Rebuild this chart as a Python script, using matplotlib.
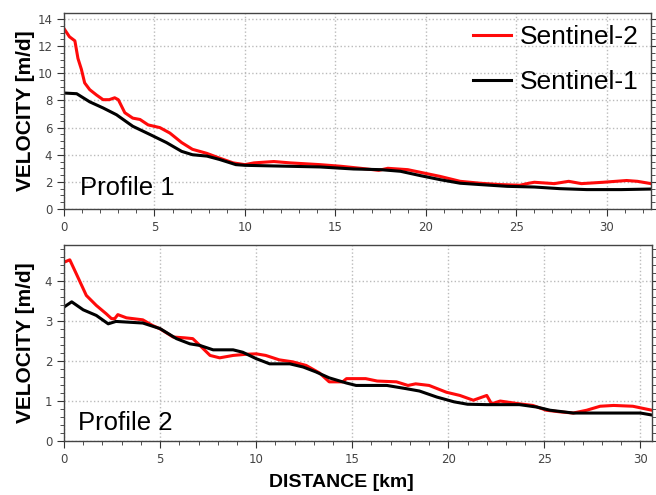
import matplotlib.pyplot as plt
from matplotlib.ticker import MultipleLocator

# Profile 1 - Sentinel-2
p1_s2_x = [0, 0.3, 0.6, 0.77, 0.96, 1.14, 1.42, 1.8, 2.16, 2.5, 2.8, 3.0, 3.36, 3.8, 4.2, 4.65,
           5.3, 5.85, 6.5, 7.1, 7.9, 8.6, 9.35, 10.0, 10.5, 11.6, 12.5, 14.15, 15.3, 16.4, 17.4,
           17.9, 19.0, 19.9, 20.8, 21.9, 23.0, 24.1, 25.2, 25.7, 26.0, 27.1, 27.9, 28.6, 29.8,
           31.1, 31.7, 32.45]
p1_s2_v = [13.3, 12.7, 12.4, 11.1, 10.3, 9.3, 8.8, 8.4, 8.06, 8.06, 8.2, 8.06, 7.1, 6.7, 6.6, 6.2,
           6.0, 5.6, 4.9, 4.4, 4.1, 3.75, 3.4, 3.27, 3.4, 3.5, 3.4, 3.27, 3.15, 3.0, 2.85,
           3.0, 2.9, 2.65, 2.4, 2.04, 1.9, 1.8, 1.75, 1.9, 1.97, 1.87, 2.04, 1.87, 1.97,
           2.1, 2.04, 1.87]

# Profile 1 - Sentinel-1
p1_s1_x = [0, 0.7, 1.42, 2.16, 2.9, 3.8, 4.74, 5.66, 6.5, 7.1, 7.9, 8.6, 9.5, 10.0, 14.15, 16.0,
           17.5, 18.6, 19.7, 20.8, 21.9, 23.0, 24.5, 26.0, 27.4, 28.9, 30.8, 32.45]
p1_s1_v = [8.55, 8.5, 7.9, 7.45, 6.95, 6.1, 5.5, 4.9, 4.25, 4.0, 3.9, 3.65, 3.27, 3.22, 3.1, 2.95,
           2.9, 2.78, 2.46, 2.16, 1.9, 1.8, 1.67, 1.62, 1.5, 1.43, 1.43, 1.47]

# Profile 2 - Sentinel-2
p2_s2_x = [0, 0.3, 0.64, 1.16, 1.68, 2.2, 2.47, 2.64, 2.8, 3.25, 4.1, 4.6, 4.98, 5.68, 6.28, 6.7,
           7.07, 7.6, 8.1, 8.8, 9.5, 10.0, 10.5, 11.2, 11.9, 12.6, 13.3, 13.8, 14.5, 14.7, 15.7,
           16.3, 17.3, 17.9, 18.3, 19.0, 19.9, 20.6, 21.3, 22.0, 22.25, 22.7, 23.7, 24.4, 25.1,
           25.8, 26.5, 27.2, 27.9, 28.6, 29.6, 30.6]
p2_s2_v = [4.47, 4.53, 4.18, 3.64, 3.39, 3.18, 3.06, 3.06, 3.16, 3.08, 3.03, 2.89, 2.81, 2.6, 2.58, 2.56,
           2.39, 2.14, 2.08, 2.14, 2.17, 2.18, 2.14, 2.03, 1.98, 1.89, 1.7, 1.48, 1.48, 1.56, 1.56,
           1.5, 1.48, 1.39, 1.43, 1.39, 1.22, 1.14, 1.02, 1.14, 0.93, 1.0, 0.93, 0.89, 0.77,
           0.73, 0.7, 0.77, 0.87, 0.89, 0.87, 0.77]

# Profile 2 - Sentinel-1
p2_s1_x = [0, 0.4, 1.0, 1.68, 2.3, 2.7, 4.1, 5.0, 5.85, 6.55, 7.07, 7.76, 8.8, 9.3, 10.0, 10.7,
           11.75, 12.45, 13.1, 13.8, 14.7, 15.2, 16.8, 17.8, 18.5, 19.4, 20.3, 21.0, 22.0, 23.7,
           24.6, 25.3, 26.5, 27.2, 28.9, 30.0, 30.6]
p2_s1_v = [3.35, 3.48, 3.28, 3.14, 2.93, 2.99, 2.95, 2.81, 2.56, 2.43, 2.39, 2.28, 2.28, 2.22, 2.06, 1.93,
           1.93, 1.85, 1.73, 1.58, 1.45, 1.39, 1.39, 1.31, 1.25, 1.1, 0.98, 0.92, 0.91, 0.91,
           0.85, 0.77, 0.7, 0.7, 0.7, 0.7, 0.65]

fig = plt.figure(figsize=(6.56, 4.95), dpi=100)
ax1 = fig.add_axes([0.0976, 0.5778, 0.8948, 0.3959])
ax2 = fig.add_axes([0.0976, 0.109, 0.8963, 0.396])

def style(ax, xmax, ymax, ymaj, ymin):
    ax.set_xlim(0, xmax)
    ax.set_ylim(0, ymax)
    ax.xaxis.set_major_locator(MultipleLocator(5))
    ax.xaxis.set_minor_locator(MultipleLocator(1))
    ax.yaxis.set_major_locator(MultipleLocator(ymaj))
    ax.yaxis.set_minor_locator(MultipleLocator(ymin))
    ax.tick_params(which='both', direction='out', right=True, top=False,
                   labelsize=8.5, labelcolor='#444444', color='#333333')
    ax.tick_params(which='major', length=5)
    ax.tick_params(which='minor', length=3)
    ax.grid(True, which='major', linestyle=':', color='#bbbbbb', linewidth=1)
    for s in ax.spines.values():
        s.set_color('#444444')
        s.set_linewidth(1)
    ax.set_ylabel('VELOCITY [m/d]', fontsize=15, fontweight='bold',
                  family='Liberation Sans')
    ax.yaxis.set_label_coords(-0.049, 0.5)

style(ax1, 32.45, 14.45, 2, 0.5)
style(ax2, 30.6, 4.9, 1, 0.2)

ax1.plot(p1_s2_x, p1_s2_v, color='#ff0a0a', lw=2.2, label='Sentinel-2')
ax1.plot(p1_s1_x, p1_s1_v, color='black', lw=2.2, label='Sentinel-1')
ax2.plot(p2_s2_x, p2_s2_v, color='#ff0a0a', lw=2.2)
ax2.plot(p2_s1_x, p2_s1_v, color='black', lw=2.2)

ax1.legend(loc='upper right', frameon=False, prop={'family': 'Liberation Sans', 'size': 19},
           handlelength=1.45, handletextpad=0.35, labelspacing=0.8,
           borderaxespad=0.0, borderpad=0.45)

ax1.text(0.027, 0.071, 'Profile 1', transform=ax1.transAxes, fontsize=18.5,
         family='Liberation Sans', va='baseline')
ax2.text(0.024, 0.056, 'Profile 2', transform=ax2.transAxes, fontsize=18.5,
         family='Liberation Sans', va='baseline')

ax2.set_xlabel('DISTANCE [km]', fontsize=14, fontweight='bold', family='Liberation Sans')
ax2.xaxis.set_label_coords(0.471, -0.17)

fig.savefig('out.png', dpi=100)
